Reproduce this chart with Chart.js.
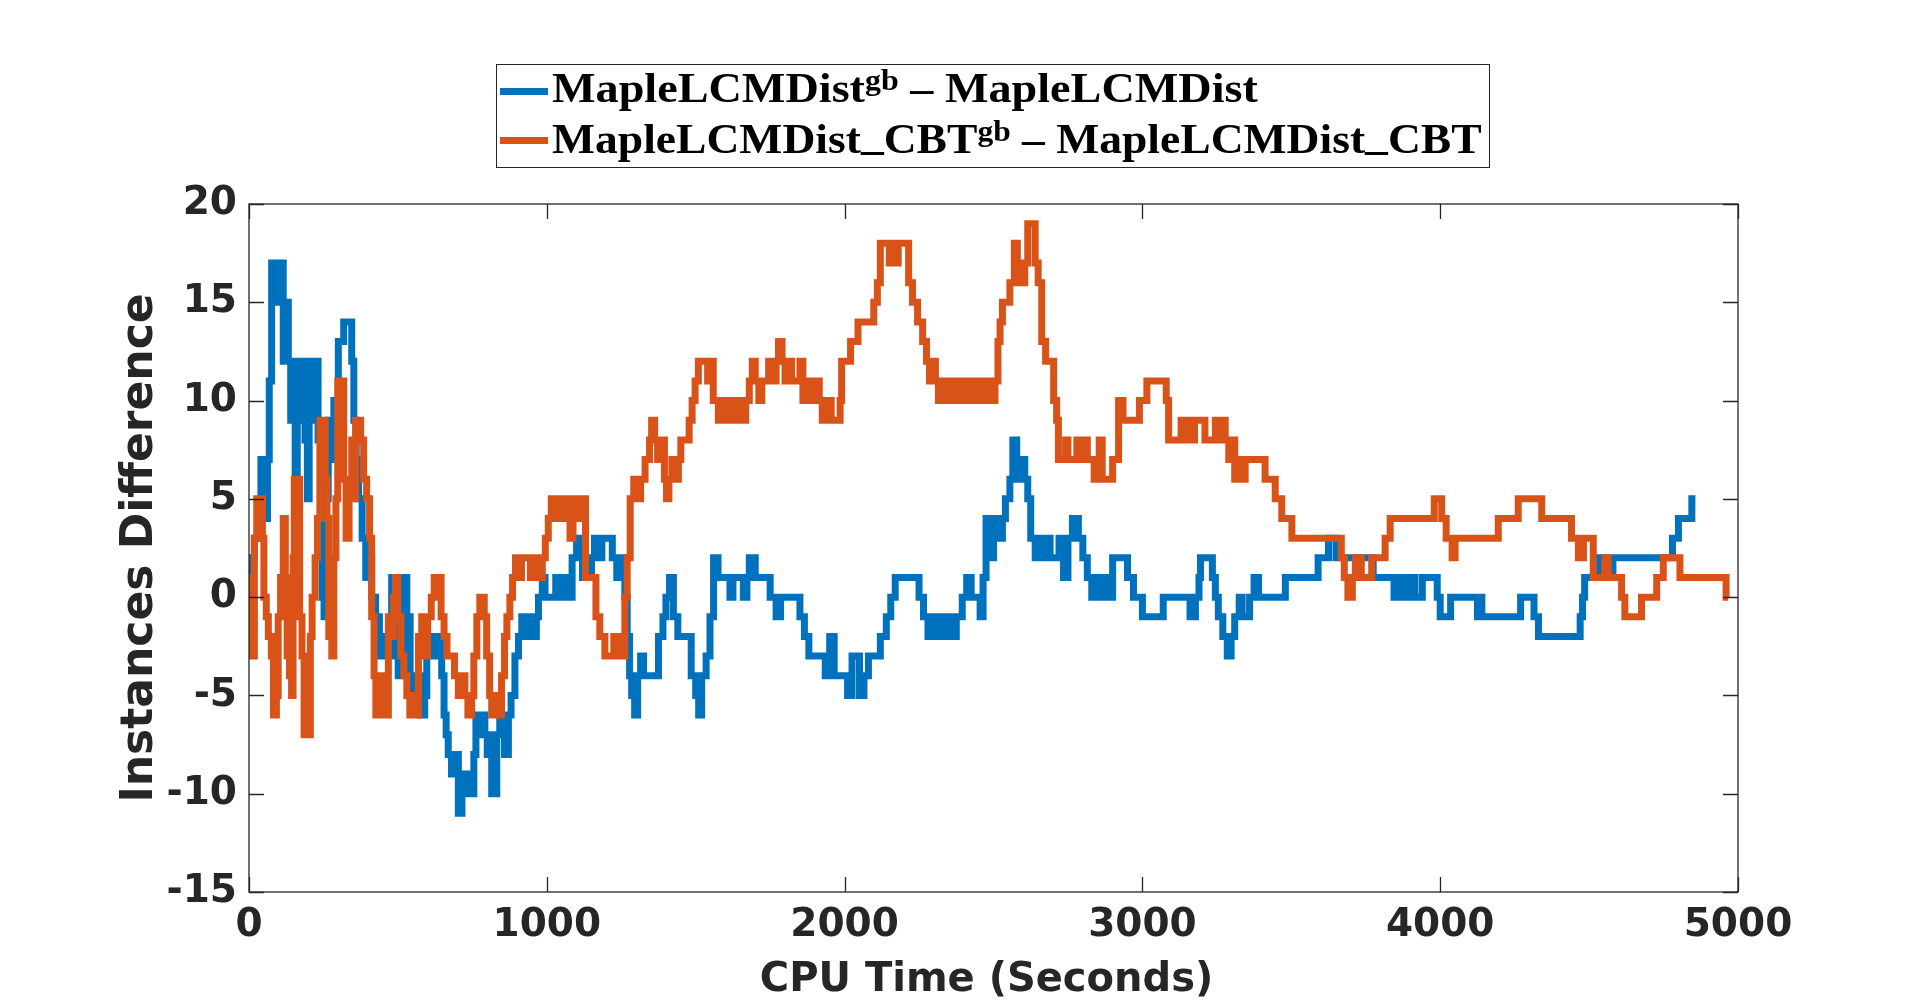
<!DOCTYPE html>
<html>
<head>
<meta charset="utf-8">
<script src="https://cdn.jsdelivr.net/npm/chart.js@4.4.1/dist/chart.umd.min.js"></script>
<style>
html,body{margin:0;padding:0;background:#fff;width:1920px;height:1001px;overflow:hidden;}
#wrap{position:relative;width:1920px;height:1001px;}
#c{position:absolute;left:0;top:0;}
#legend{position:absolute;left:496px;top:64px;width:994px;height:104px;border:1.3px solid #262626;background:#fff;box-sizing:border-box;}
.sw{position:absolute;left:3px;width:48px;height:7px;}
.txt{position:absolute;left:55px;white-space:nowrap;font-family:'Liberation Serif','Times New Roman',serif;font-weight:bold;font-size:42px;line-height:1;color:#000;transform-origin:0 0;}
.sup{font-size:29px;vertical-align:12.5px;line-height:0;}
.us{position:relative;top:-4px;}
</style>
</head>
<body>
<div id="wrap">
<canvas id="c" width="1920" height="1001"></canvas>
<div id="legend">
  <div class="sw" style="top:22.5px;background:#0072BD"></div>
  <div class="txt" id="l1" style="top:1.5px">MapleLCMDist<span class="sup">gb</span> – MapleLCMDist</div>
  <div class="sw" style="top:72px;background:#D95319"></div>
  <div class="txt" id="l2" style="top:52.5px">MapleLCMDist<span class="us">_</span>CBT<span class="sup">gb</span> – MapleLCMDist<span class="us">_</span>CBT</div>
</div>
</div>
<script>
// ---- tick labels ----
const xTickValues = [0, 1000, 2000, 3000, 4000, 5000];
const xTickLabels = ['0', '1000', '2000', '3000', '4000', '5000'];
const yTickValues = [-15, -10, -5, 0, 5, 10, 15, 20];
const yTickLabels = ['-15', '-10', '-5', '0', '5', '10', '15', '20'];

// ---- series 1: MapleLCMDist^gb - MapleLCMDist (step changes: time, new value) ----
const blueTime = [0,8,18,30,40,52,62,68,76,95,106,115,125,132,140,148,155,162,170,188,196,202,210,232,240,246,252,258,266,275,285,300,318,345,352,360,368,380,392,400,412,425,438,450,465,479,490,501,510,518,530,541,552,562,574,590,597,612,625,638,647,655,662,669,680,690,703,715,725,735,748,755,762,772,782,792,800,808,815,832,842,850,858,871,880,893,905,916,930,940,950,965,972,985,994,
 1015,1030,1045,1060,1075,1085,1100,1110,1120,1150,1160,1175,1185,1220,1235,1250,1262,1270,1278,1285,1295,1305,1315,1325,1375,1390,1400,1412,1425,1440,1485,1500,1510,1520,1535,1548,1560,1575,1615,1625,1660,1672,1680,1700,1750,1770,1785,1850,1865,1880,1935,1950,1965,2010,2025,
 2050,2065,2080,2120,2140,2155,2170,2250,2265,2280,2295,2305,2315,2325,2340,2355,2375,2395,2410,2425,2455,2465,2475,2490,2500,2515,2530,2540,2555,2565,2578,2585,2595,2605,2615,2625,2640,2660,2670,2680,2690,2720,2735,2750,2765,2785,2800,2815,2830,2840,2850,2870,2880,2900,2950,2970,3000,
 3070,3160,3178,3190,3195,3235,3245,3255,3270,3285,3298,3310,3325,3335,3360,3375,3390,3480,3590,3625,3650,3775,3845,3860,3870,3880,3890,3900,3915,3940,3990,4000,
 4035,4125,4130,4140,4270,4315,4330,4470,4478,4485,4533,4545,4550,4555,4580,4780,4800,4845,4857];
const blueDiff = [0,2,3,4,7,4,7,11,17,15,17,12,15,12,9,12,6,9,12,8,5,9,12,8,5,0,-1,5,9,7,10,13,14,12,9,7,5,3,1,2,0,-1,-3,-2,-3,1,0,-4,-3,1,-1,-4,-5,-4,-6,-5,-3,-2,-3,-2,-4,-6,-7,-8,-9,-8,-11,-9,-10,-9,-10,-8,-6,-7,-6,-7,-8,-7,-10,-7,-6,-7,-8,-6,-5,-3,-2,-1,-2,-1,-2,-1,0,1,0,
 0,1,0,1,0,2,3,2,1,2,3,2,3,2,1,2,0,-2,-4,-5,-6,-4,-3,-4,-2,-1,0,1,-1,-2,-4,-5,-6,-4,-3,-1,2,1,0,1,0,1,2,1,0,-1,0,-1,-2,-3,-4,-2,-4,-5,-3,
 -5,-4,-3,-2,-1,0,1,0,-1,-2,-1,-2,-1,-2,-1,-2,-1,0,1,0,-1,1,4,2,4,3,4,5,6,8,7,6,7,6,5,3,2,3,2,3,2,3,1,3,4,3,2,1,0,1,0,1,0,2,1,0,-1,
 0,-1,0,1,2,1,0,-1,-2,-3,-2,-1,0,-1,0,1,0,1,2,3,2,1,0,1,0,1,0,1,0,1,0,-1,
 0,-1,0,-1,0,-1,-2,-1,0,1,2,1,2,1,2,3,4,5,5];

// ---- series 2: MapleLCMDist_CBT^gb - MapleLCMDist_CBT ----
const orangeTime = [0,4,8,12,18,26,45,50,58,65,75,82,92,98,106,115,122,128,136,143,148,152,170,178,185,206,212,222,230,238,256,262,268,278,285,292,298,318,326,336,345,352,358,375,385,395,405,412,420,426,445,452,468,478,485,492,500,510,520,530,540,550,560,569,580,590,600,612,622,645,655,665,690,703,715,725,735,748,755,765,775,790,798,808,815,830,840,848,858,866,876,885,895,905,915,945,960,970,985,995,1005,1015,
 1025,1035,1050,1058,1070,1078,1088,1100,1108,1130,1165,1178,1195,1225,1232,1245,1252,1262,1270,1280,1292,1305,1315,1330,1345,1352,1362,1372,1385,1395,1402,1410,1420,1430,1442,1450,1478,1488,1498,1509,1540,1550,1559,1576,1590,1612,1625,1635,1648,1655,1668,1680,1690,1700,1712,1722,1745,1758,1770,1778,1790,1800,1815,1822,1850,1860,1875,1889,1905,1915,1925,1945,1955,1985,1990,2020,
 2045,2098,2110,2120,2150,2160,2170,2180,2215,2228,2245,2262,2275,2285,2295,2305,2315,2325,2335,2345,2360,2375,2385,2400,2415,2430,2440,2455,2470,2480,2490,2505,2515,2522,2530,2555,2570,2580,2590,2605,2615,2640,2650,2662,2675,2702,2712,2718,2742,2750,2780,2790,2805,2815,2838,2855,2865,2900,2920,2935,2990,3015,
 3080,3088,3130,3140,3150,3160,3175,3210,3245,3255,3265,3278,3290,3300,3310,3320,3330,3345,3412,3446,3468,3502,3668,3678,3690,3705,3715,3722,3728,3735,3770,3815,3832,3980,4005,4020,
 4040,4050,4195,4262,4341,4441,4464,4481,4514,4553,4564,4609,4620,4676,4727,4749,4805,4960,4967];
const orangeDiff = [0,-2,1,-3,3,5,3,0,-1,-2,-3,-6,-5,-1,1,4,1,-3,-4,-5,2,6,-1,-3,-7,-2,0,2,4,9,6,4,-2,-3,2,5,11,6,3,6,8,5,9,8,6,5,3,-1,-4,-6,-4,-6,-1,-2,0,1,-1,-3,-4,-5,-6,-5,-6,-2,-1,-3,-1,0,1,-1,-2,-3,-4,-5,-4,-5,-6,-5,-3,-1,0,-1,-3,-5,-6,-5,-6,-4,-2,-1,0,1,2,1,2,1,2,1,2,3,4,5,
 4,5,4,5,4,3,5,4,5,1,-1,-2,-3,-2,-3,-2,-3,0,2,5,6,5,6,7,8,9,8,7,8,6,5,6,7,6,7,8,9,10,11,12,11,12,10,9,10,9,10,9,10,9,10,11,12,11,10,11,12,11,12,13,12,11,12,11,12,10,11,10,11,10,9,10,9,10,12,13,
 14,15,16,18,17,18,17,18,16,15,14,13,12,11,12,11,10,11,10,11,10,11,10,11,10,11,10,11,10,11,10,11,13,14,15,16,18,17,16,17,19,17,16,13,12,10,9,7,8,7,8,7,8,7,6,8,6,7,10,9,10,11,
 10,8,9,8,9,8,9,8,9,8,9,8,7,8,6,7,6,7,6,5,4,3,2,1,0,1,2,1,2,1,2,3,4,5,4,3,
 2,3,4,5,4,3,2,3,1,2,1,0,-1,0,1,2,1,0,0];

const toPoints = (ts, vs) => ts.map((t, i) => ({x: t, y: vs[i]}));

const axisColor = '#262626';
const tickFont = {family: "'DejaVu Sans', sans-serif", weight: 'bold', size: 39};

const framePlugin = {
  id: 'frame',
  afterDatasetsDraw(chart) {
    const {ctx, chartArea: {left, right, top, bottom}, scales: {x, y}} = chart;
    ctx.save();
    ctx.strokeStyle = axisColor;
    ctx.lineWidth = 1.3;
    ctx.strokeRect(left, top, right - left, bottom - top);
    const L = 15;
    ctx.beginPath();
    xTickValues.forEach(v => {
      const px = Math.round(x.getPixelForValue(v)) + 0.5;
      ctx.moveTo(px, bottom); ctx.lineTo(px, bottom - L);
      ctx.moveTo(px, top); ctx.lineTo(px, top + L);
    });
    yTickValues.forEach(v => {
      const py = Math.round(y.getPixelForValue(v)) + 0.5;
      ctx.moveTo(left, py); ctx.lineTo(left + L, py);
      ctx.moveTo(right, py); ctx.lineTo(right - L, py);
    });
    ctx.stroke();
    ctx.restore();
  }
};

new Chart(document.getElementById('c'), {
  type: 'line',
  data: {
    datasets: [
      {
        label: 'MapleLCMDist^gb - MapleLCMDist',
        data: toPoints(blueTime, blueDiff),
        borderColor: '#0072BD',
        backgroundColor: '#0072BD',
        borderWidth: 7,
        stepped: 'before',
        pointRadius: 0,
        fill: false,
        order: 2
      },
      {
        label: 'MapleLCMDist_CBT^gb - MapleLCMDist_CBT',
        data: toPoints(orangeTime, orangeDiff),
        borderColor: '#D95319',
        backgroundColor: '#D95319',
        borderWidth: 7,
        stepped: 'before',
        pointRadius: 0,
        fill: false,
        order: 1
      }
    ]
  },
  options: {
    responsive: false,
    animation: false,
    events: [],
    devicePixelRatio: 1,
    layout: {padding: {top: 204, right: 182, bottom: 0, left: 0}},
    plugins: {legend: {display: false}, tooltip: {enabled: false}, title: {display: false}},
    scales: {
      x: {
        type: 'linear',
        min: 0, max: 5000,
        grid: {display: false, drawTicks: false},
        border: {display: false},
        afterBuildTicks: s => { s.ticks = xTickValues.map(v => ({value: v})); },
        afterFit: s => { s.height = 109; },
        ticks: {
          autoSkip: false, maxRotation: 0, padding: 10,
          font: tickFont, color: axisColor,
          callback: v => xTickLabels[xTickValues.indexOf(v)]
        },
        title: {
          display: true, text: 'CPU Time (Seconds) ', color: axisColor,
          font: {family: "'DejaVu Sans', sans-serif", weight: 'bold', size: 40},
          padding: {top: 0, bottom: -4}
        }
      },
      y: {
        type: 'linear',
        min: -15, max: 20,
        grid: {display: false, drawTicks: false},
        border: {display: false},
        afterBuildTicks: s => { s.ticks = yTickValues.map(v => ({value: v})); },
        afterFit: s => { s.width = 249; },
        ticks: {
          autoSkip: false, padding: 12,
          font: tickFont, color: axisColor,
          callback: v => yTickLabels[yTickValues.indexOf(v)]
        },
        title: {
          display: true, text: 'Instances Difference', color: axisColor,
          font: {family: "'DejaVu Sans', sans-serif", weight: 'bold', size: 44},
          padding: {top: 114, bottom: 0}
        }
      }
    }
  },
  plugins: [framePlugin]
});

function fitLegend() {
  const l1 = document.getElementById('l1');
  const l2 = document.getElementById('l2');
  l1.style.transform = 'none'; l2.style.transform = 'none';
  l1.style.transform = 'scaleX(' + (706 / l1.offsetWidth) + ')';
  l2.style.transform = 'scaleX(' + (930 / l2.offsetWidth) + ')';
}
fitLegend();
if (document.fonts && document.fonts.ready) document.fonts.ready.then(fitLegend);
</script>
</body>
</html>
